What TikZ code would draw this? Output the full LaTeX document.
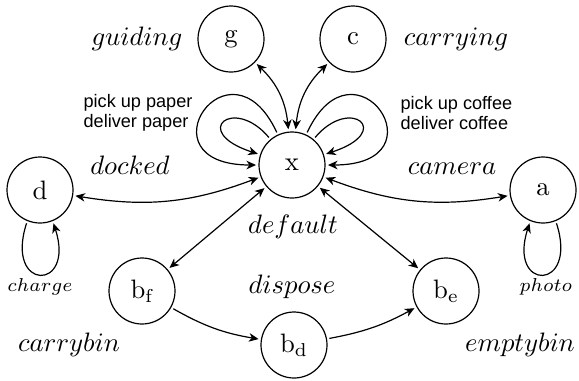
\documentclass[tikz,border=0pt]{standalone}
\usepackage{fontspec}
\newfontfamily\labsans{Liberation Sans}
\usetikzlibrary{arrows.meta}
\begin{document}
\begin{tikzpicture}[x=0.375pt,y=0.375pt,line width=0.45pt,
  >={Stealth[length=3.6pt,width=3.2pt,inset=1.1pt]},
  state/.style={circle,draw,minimum size=24.75pt,inner sep=0pt,outer sep=1.1pt},
  lab/.style={anchor=base,inner sep=0pt},
  smalllab/.style={anchor=base,inner sep=0pt,font=\scriptsize},
  act/.style={anchor=west,align=left,inner sep=0pt,font=\labsans\fontsize{6.8pt}{7.3pt}\selectfont}]
\useasboundingbox (0,0) rectangle (579,380);
% states
\node[state] (x) at (292,215) {x};
\node[state] (g) at (231,341) {g};
\node[state] (c) at (353,341) {c};
\node[state] (d) at (40,190) {d};
\node[state] (a) at (543,190) {a};
\node[state] (bf) at (142,89) {$\mathrm{b}_{\mathrm{f}}$};
\node[state] (be) at (446,89) {$\mathrm{b}_{\mathrm{e}}$};
\node[state] (bd) at (294,35) {$\mathrm{b}_{\mathrm{d}}$};
% labels
\node[lab] (lguiding) at (137,335) {$guiding$};
\node[lab] (lcarrying) at (456,335) {$carrying$};
\node[lab] (ldocked) at (130,206) {$docked$};
\node[lab] (lcamera) at (452,206) {$camera$};
\node[lab] (ldefault) at (293,147) {$default$};
\node[lab] (ldispose) at (292,87) {$dispose$};
\node[smalllab] (lcharge) at (40,89) {$charge$};
\node[smalllab] (lphoto) at (546,89) {$photo$};
\node[lab] (lcarrybin) at (69,29) {$carrybin$};
\node[lab] (lemptybin) at (520,29) {$emptybin$};
\node[act] (lpaper) at (83,267) {pick up paper\\deliver paper};
\node[act] (lcoffee) at (400,267) {pick up coffee\\deliver coffee};
% connectors
\draw[<->] (g) to[bend left=20] (x);
\draw[<->] (c) to[bend right=20] (x);
\draw[<->] (x) to[bend left=15] (d);
\draw[<->] (x) to[bend right=15] (a);
\draw[<->] (x) -- (bf);
\draw[<->] (x) -- (be);
\draw[->] (bf) to[bend right=10] (bd);
\draw[->] (bd) to[bend right=9] (be);
% self loops
\draw[->] (x.115) .. controls +(115:112) and +(180:118) .. (x.180);
\draw[->] (x.130) .. controls +(130:55) and +(162:72) .. (x.162);
\draw[->] (x.65) .. controls +(65:112) and +(0:118) .. (x.0);
\draw[->] (x.50) .. controls +(50:55) and +(18:72) .. (x.18);
\draw[->] (d.248) .. controls +(252:72) and +(288:72) .. (d.292);
\draw[->] (a.292) .. controls +(288:72) and +(252:72) .. (a.248);
\end{tikzpicture}
\end{document}
